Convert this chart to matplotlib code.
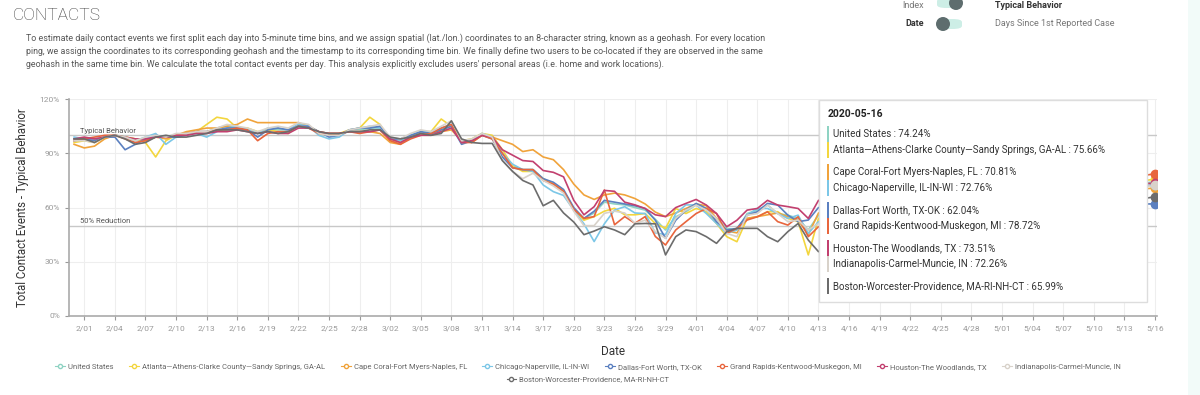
import matplotlib.pyplot as plt
import matplotlib.dates as mdates
from matplotlib.lines import Line2D
from matplotlib.patches import Rectangle, FancyBboxPatch, Circle
import pandas as pd

plt.rcParams['font.family'] = ['Roboto', 'DejaVu Sans']

# daily values 1/31 .. 4/13, then the hovered day 5/16
dates = list(pd.date_range('2020-01-31', '2020-04-13')) + [pd.Timestamp('2020-05-16')]

names = ['United States', 'Atlanta\u2014Athens-Clarke County\u2014Sandy Springs, GA-AL',
         'Cape Coral-Fort Myers-Naples, FL', 'Chicago-Naperville, IL-IN-WI',
         'Dallas-Fort Worth, TX-OK', 'Grand Rapids-Kentwood-Muskegon, MI',
         'Houston-The Woodlands, TX', 'Indianapolis-Carmel-Muncie, IN',
         'Boston-Worcester-Providence, MA-RI-NH-CT']
colors = ['#8fd3c3', '#f3d63e', '#f0a33b', '#7cc7e7', '#5b80c0',
          '#e8653d', '#c2406f', '#d8d2ca', '#6c6c6c']

us = [98, 98, 97, 99, 100, 99, 97, 98, 100, 99, 99, 101, 102, 102, 104, 105, 104, 103, 101, 103,
      103, 103, 106, 105, 102, 100, 100, 103, 103, 104, 104, 98, 97, 100, 102, 101, 103, 105,
      97, 97, 101, 99, 90, 83, 81, 81, 76, 73, 69, 59, 54, 57, 63, 62, 61.5, 60, 58.6, 53.5,
      47.6, 54.9, 57.7, 61.5, 59.5, 54, 48.5, 47.6, 56.7, 58.6, 61.4, 56.7, 55.8, 54, 47.6, 55.8,
      74.24]
atl = [96, 97, 96, 99, 100, 99, 98, 96, 88, 97, 100, 101, 102, 106, 110, 109, 104, 104, 102, 103,
       102, 101, 106, 105, 101, 100, 101, 103, 104, 110, 106, 97, 96, 99, 102, 102, 109, 105,
       97, 98, 101, 100, 92, 83, 80, 80, 76, 73, 69, 59, 53, 55, 58, 59.6, 56, 56, 56.7, 51.2,
       48.5, 59.5, 56.7, 59.5, 57.7, 51.2, 43.9, 41.1, 54, 54.9, 57.7, 57.7, 54, 52.2, 33.8, 54,
       75.66]
cape = [95, 93, 94, 98, 100, 99, 98, 97, 99, 98, 100, 102, 103, 104, 104, 105, 106, 109, 107, 107,
        107, 107, 107, 105, 102, 101, 101, 102, 102, 102, 101, 96, 95, 99, 101, 101, 102, 103,
        97, 96, 100, 99, 97, 95, 91, 92, 88, 86.5, 81, 73, 67, 64.5, 67, 68, 67, 65, 62, 57.5,
        55, 57, 59.5, 62, 61, 54, 47, 46, 54, 55, 56, 57, 55, 53, 45, 57,
        70.81]
chi = [99, 98, 98, 99, 100, 99, 97, 99, 101, 95, 99, 101, 101, 99, 102, 104, 105, 103, 101, 104,
       104, 103, 106, 105, 100, 98, 99, 103, 104, 105, 104, 98, 97, 100, 102, 102, 104, 106,
       96, 97, 101, 99, 90, 84, 81, 80, 72.5, 68.8, 66.7, 58.6, 51, 41.2, 51, 58.6, 60.5, 57, 56.7, 46,
       45, 56.7, 61.5, 61.4, 56.7, 51.2, 45.7, 47.6, 55.8, 59.5, 59.5, 56.7, 54, 55.8, 45.7, 52.2,
       72.76]
dal = [97, 98, 97, 99, 99, 92, 95, 98, 100, 99, 99, 100, 102, 102, 103, 104, 104, 103, 99, 103,
       104, 103, 105, 105, 102, 99, 100, 103, 104, 104, 105, 98, 98, 100, 102, 101, 103, 105,
       95, 97, 100, 98, 88, 82, 81, 81, 76, 74, 70, 60, 54, 58, 64, 63, 62, 61, 59.5, 53,
       43, 53, 58.6, 62.3, 59.5, 52.2, 47.6, 48.5, 55.8, 57.7, 62.3, 61.4, 55.8, 52.2, 53.1, 60,
       62.04]
grand = [97, 98, 99, 100, 100, 98, 96, 97, 99, 99, 100, 101, 102, 102, 103, 103, 104, 103, 97, 101,
         102, 102, 105, 104, 101, 101, 101, 102, 101, 102, 103, 97, 95, 98, 100, 101, 104, 106,
         96, 96, 100, 98, 90, 82, 81, 81, 75, 73, 69, 59, 54, 55, 69.7, 50.5, 55, 51.3, 55, 44,
         39.3, 47.6, 52.2, 56.7, 59.5, 56.7, 45.7, 48.5, 53.1, 54.9, 57.7, 52.2, 50.3, 54.9, 43.9, 49.4,
         78.72]
hou = [98, 99, 98, 99, 100, 99, 98, 98, 99, 99, 100, 100, 101, 101, 102, 102, 103, 102, 101, 102,
       101, 101, 104, 104, 102, 101, 101, 102, 102, 102, 103, 98, 96, 99, 100, 100, 102, 104,
       96, 97, 100, 99, 92, 89, 86, 85.5, 80.5, 79.5, 77, 64, 56, 60.5, 69.5, 69, 63, 61.5, 59.5, 56,
       55, 60, 62.3, 64.5, 61.4, 56.7, 49.4, 53, 58.6, 59.5, 64, 61.4, 60.5, 59.5, 54, 64,
       73.51]
indy = [97, 97, 96, 99, 100, 99, 97, 99, 100, 99, 101, 101, 102, 102, 104, 106, 105, 104, 102, 104,
        105, 104, 107, 106, 101, 100, 100, 103, 104, 105, 106, 99, 98, 101, 103, 102, 105, 108,
        97, 98, 101, 99, 86, 80, 76, 79, 75, 72, 68, 58, 50, 50, 56.8, 58, 57, 51.3, 53, 46.7,
        43, 54, 58.6, 61.4, 58.6, 54, 45.7, 43.9, 55.8, 56.7, 61.4, 56.7, 52.2, 53.1, 47.6, 51.2,
        72.26]
bos = [98, 98, 96, 99, 100, 98, 95, 96, 99, 100, 99, 99, 100, 101, 103, 103, 103, 102, 101, 102,
       101, 102, 105, 104, 102, 101, 101, 102, 102, 103, 103, 99, 98, 99, 101, 100, 101, 108,
       98, 96, 95.5, 95.5, 86, 80, 75, 72.5, 61, 64, 57, 52, 45, 47, 49.4, 47.6, 45, 51, 51.2, 51,
       33.8, 43.9, 47.6, 46.7, 43.9, 40.2, 46.7, 48.5, 48.5, 48.5, 43.9, 41.1, 46.7, 51.2, 42, 35.6,
       65.99]
series = [us, atl, cape, chi, dal, grand, hou, indy, bos]

tick_dates = pd.date_range('2020-02-01', '2020-05-16', freq='3D')
tick_labels = [f'{d.month}/{d.day:02d}' for d in tick_dates]

fig = plt.figure(figsize=(12, 3.95), dpi=100)
ax = fig.add_axes([0.0575, 0.2, 0.9067, 0.549])

for vals, c in zip(series, colors):
    ax.plot(dates, vals, color=c, lw=1.2, zorder=3)
    ax.plot(dates[-1], vals[-1], 'o', color=c, ms=6, zorder=4)

ax.axhline(100, color='#c8c8c8', lw=1, zorder=2)
ax.axhline(50, color='#c8c8c8', lw=1, zorder=2)
ax.text(mdates.date2num(pd.Timestamp('2020-01-31')) + 0.6, 101.5, 'Typical Behavior',
        fontsize=5.5, color='#555555', zorder=2)
ax.text(mdates.date2num(pd.Timestamp('2020-01-31')) + 0.6, 51.5, '50% Reduction',
        fontsize=5.5, color='#555555', zorder=2)

ax.set_xlim(mdates.date2num(pd.Timestamp('2020-01-30')) + 0.5,
            mdates.date2num(pd.Timestamp('2020-05-16')) + 0.2)
ax.set_ylim(0, 120)
ax.set_yticks([0, 30, 60, 90, 120])
ax.set_yticklabels(['0%', '30%', '60%', '90%', '120%'])
ax.set_xticks(tick_dates)
ax.set_xticklabels(tick_labels)
ax.tick_params(axis='both', labelsize=6, colors='#999999', length=3, width=0.8)
ax.grid(True, color='#eeeeee', lw=0.8, zorder=0)
for s in ['top', 'right']:
    ax.spines[s].set_visible(False)
for s in ['left', 'bottom']:
    ax.spines[s].set_color('#aaaaaa')
    ax.spines[s].set_linewidth(1.2)

ax.set_ylabel('Total Contact Events - Typical Behavior', fontsize=8.3, color='#333333', labelpad=8)
ax.set_xlabel('Date', fontsize=8.5, color='#333333', labelpad=10)

# hover tooltip
tip = Rectangle((0.689, 0.065), 0.302, 0.932, transform=ax.transAxes, facecolor='white',
                edgecolor='#dddddd', lw=1, zorder=10)
ax.add_patch(tip)
ax.text(0.697, 0.931, '2020-05-16', transform=ax.transAxes, fontsize=7.5, fontweight='bold',
        color='#222222', va='center', zorder=11)
item_y = [0.839, 0.765, 0.664, 0.590, 0.488, 0.415, 0.313, 0.240, 0.138]
for name, vals, c, yy in zip(names, series, colors, item_y):
    ax.text(0.702, yy, f'{name} : {vals[-1]:.2f}%', transform=ax.transAxes, fontsize=7,
            color='#333333', va='center', zorder=11)
    ax.add_patch(Rectangle((0.6965, yy - 0.036), 0.0018, 0.072, transform=ax.transAxes,
                           facecolor=c, edgecolor='none', zorder=11))

# legend: 8 in first row, Boston centred below
handles = [Line2D([], [], color=c, lw=0.8, marker='o', ms=3, mfc='white', mec=c) for c in colors]
fig.legend(handles[:8], names[:8], loc='center', bbox_to_anchor=(0.49, 0.071), ncol=8,
           frameon=False, fontsize=5.5, handlelength=1.3, handletextpad=0.4,
           columnspacing=2.0, labelcolor='#666666')
fig.legend(handles[8:], names[8:], loc='center', bbox_to_anchor=(0.49, 0.04), ncol=1,
           frameon=False, fontsize=5.5, handlelength=1.3, handletextpad=0.4, labelcolor='#666666')

# header
fig.text(0.011, 0.962, 'CONTACTS', fontsize=12.5, color='#3a3a3a', va='center', fontweight='light')
para = ['To estimate daily contact events we first split each day into 5-minute time bins, and we assign spatial (lat./lon.) coordinates to an 8-character string, known as a geohash. For every location',
        'ping, we assign the coordinates to its corresponding geohash and the timestamp to its corresponding time bin. We finally define two users to be co-located if they are observed in the same',
        "geohash in the same time bin. We calculate the total contact events per day. This analysis explicitly excludes users' personal areas (i.e. home and work locations)."]
for i, line in enumerate(para):
    fig.text(0.0215, 1 - (38 + 13 * i) / 395, line, fontsize=6.4, color='#555555', va='center')

# toggles top right
fig.text(924 / 1200, 1 - 5 / 395, 'Index', fontsize=6.5, color='#777777', ha='right', va='center')
fig.text(924 / 1200, 1 - 24 / 395, 'Date', fontsize=6.5, color='#333333', ha='right', va='center',
         fontweight='bold')
fig.text(995 / 1200, 1 - 5 / 395, 'Typical Behavior', fontsize=6.5, color='#333333', va='center',
         fontweight='bold')
fig.text(995 / 1200, 1 - 24 / 395, 'Days Since 1st Reported Case', fontsize=6.5, color='#777777',
         va='center')
for yc, kx in [(3, 956), (24, 943)]:
    fig.patches.append(FancyBboxPatch((937 / 1200, 1 - (yc + 5) / 395), 25 / 1200, 10 / 395,
                                      boxstyle='round,pad=0,rounding_size=0.008',
                                      transform=fig.transFigure, facecolor='#cdeee6',
                                      edgecolor='none'))
    fig.patches.append(Circle((kx, 395 - yc), 7, transform=None, facecolor='#5e6d6e',
                              edgecolor='none'))

fig.patches.append(Rectangle((1188 / 1200, 0), 12 / 1200, 1, transform=fig.transFigure,
                             facecolor='#f2fbf9', edgecolor='none'))

plt.savefig('out.png', dpi=100)
